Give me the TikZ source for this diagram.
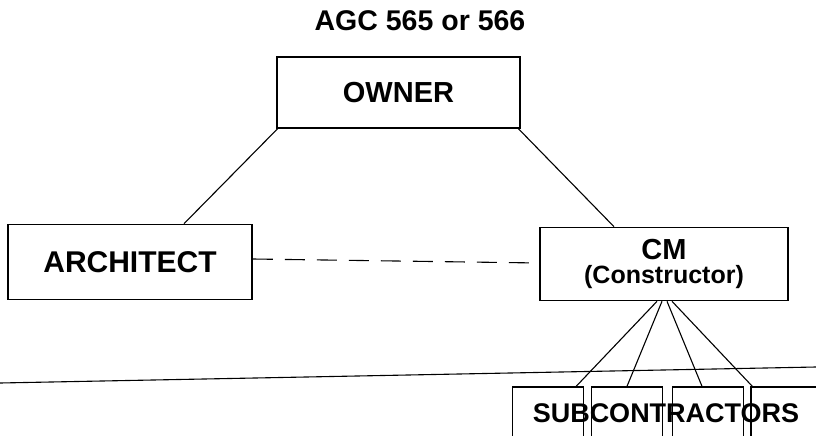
\documentclass[tikz,border=0pt]{standalone}
\usepackage{fontspec}
\setmainfont{Liberation Sans}
\usepackage{tikz}
\usetikzlibrary{positioning}

\begin{document}
\begin{tikzpicture}[
  x=1pt,y=-1pt,
  font=\bfseries,
  party/.style={rectangle,draw,line width=1.6pt,inner sep=0pt,align=center},
  subbox/.style={rectangle,draw,line width=1.4pt,inner sep=0pt,minimum width=71pt,minimum height=50pt},
  ln/.style={line width=1.1pt},
  dsh/.style={line width=1.1pt,dash pattern=on 20pt off 12pt}
]
\useasboundingbox (0,0) rectangle (816,436);

\node (title) at (420,21) {\fontsize{28.5}{30}\selectfont AGC 565 or 566};

\node[party,minimum width=243pt,minimum height=71pt] (owner) at (398.5,92.5) {\fontsize{29}{30}\selectfont OWNER};
\node[party,minimum width=244pt,minimum height=75pt] (arch) at (130,262) {\fontsize{30}{30}\selectfont ARCHITECT};
\node[party,minimum width=248pt,minimum height=73pt] (cm) at (664,264)
  {\fontsize{29}{25}\selectfont CM\\[4pt]\fontsize{25}{25}\selectfont (Constructor)};

\node[subbox] (sub1) at (548,412) {};
\node[subbox] (sub2) at (627,412) {};
\node[subbox] (sub3) at (708,412) {};
\node[subbox,minimum width=74pt] (sub4) at (788,412) {};
\node (subs) at (666,413) {\fontsize{27}{30}\selectfont SUBCONTRACTORS};

\draw[ln] ([xshift=-121pt]owner.south) -- ([xshift=54pt]arch.north);
\draw[ln] ([xshift=120pt]owner.south) -- ([xshift=-50pt]cm.north);
\draw[dsh] ([yshift=3pt]arch.east) -- ([yshift=1pt]cm.west);

\draw[ln] ([xshift=-7pt]cm.south) -- ([xshift=-8pt]sub1.north east);
\draw[ln] ([xshift=-2pt]cm.south) -- (sub2.north);
\draw[ln] ([xshift=3pt]cm.south) -- ([xshift=-6pt]sub3.north);
\draw[ln] ([xshift=8pt]cm.south) -- ([xshift=2pt]sub4.north west);

\draw[ln] (0,383) -- (816,367);
\end{tikzpicture}
\end{document}
